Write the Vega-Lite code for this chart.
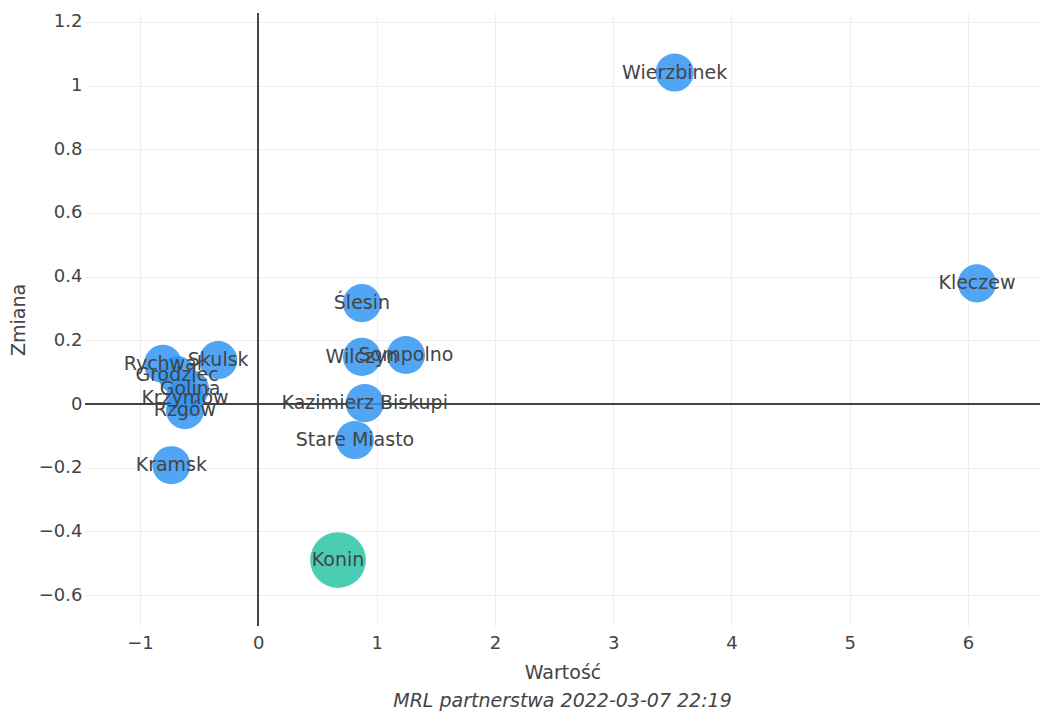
{
  "$schema": "https://vega.github.io/schema/vega-lite/v6.json",
  "autosize": "none",
  "width": 955,
  "height": 613,
  "padding": {"left": 85, "top": 13, "right": 6, "bottom": 85},
  "background": "white",
  "config": {
    "font": "DejaVu Sans",
    "view": {"stroke": null},
    "axis": {
      "grid": true,
      "gridColor": "#eeeeee",
      "gridWidth": 1,
      "domain": false,
      "ticks": false,
      "tickSize": 0,
      "labelFont": "DejaVu Sans",
      "labelFontSize": 18,
      "labelColor": "#444444",
      "titleFont": "DejaVu Sans",
      "titleFontSize": 19,
      "titleFontWeight": "normal",
      "titleColor": "#444444"
    }
  },
  "title": {
    "text": "MRL partnerstwa 2022-03-07 22:19",
    "orient": "bottom",
    "anchor": "middle",
    "font": "DejaVu Sans",
    "fontSize": 19,
    "fontStyle": "italic",
    "fontWeight": "normal",
    "color": "#444444",
    "offset": 10
  },
  "data": {
    "values": [
      {"gmina": "Wierzbinek", "wartosc": 3.52, "zmiana": 1.041, "typ": "gmina"},
      {"gmina": "Kleczew", "wartosc": 6.075, "zmiana": 0.379, "typ": "gmina"},
      {"gmina": "Ślesin", "wartosc": 0.876, "zmiana": 0.317, "typ": "gmina"},
      {"gmina": "Wilczyn", "wartosc": 0.876, "zmiana": 0.148, "typ": "gmina"},
      {"gmina": "Sompolno", "wartosc": 1.248, "zmiana": 0.154, "typ": "gmina"},
      {"gmina": "Kazimierz Biskupi", "wartosc": 0.9, "zmiana": 0.003, "typ": "gmina"},
      {"gmina": "Stare Miasto", "wartosc": 0.817, "zmiana": -0.113, "typ": "gmina"},
      {"gmina": "Skulsk", "wartosc": -0.339, "zmiana": 0.138, "typ": "gmina"},
      {"gmina": "Rychwał", "wartosc": -0.806, "zmiana": 0.126, "typ": "gmina"},
      {"gmina": "Grodziec", "wartosc": -0.687, "zmiana": 0.091, "typ": "gmina"},
      {"gmina": "Golina", "wartosc": -0.577, "zmiana": 0.047, "typ": "gmina"},
      {"gmina": "Krzymów", "wartosc": -0.62, "zmiana": 0.019, "typ": "gmina"},
      {"gmina": "Rzgów", "wartosc": -0.62, "zmiana": -0.019, "typ": "gmina"},
      {"gmina": "Kramsk", "wartosc": -0.735, "zmiana": -0.192, "typ": "gmina"},
      {"gmina": "Konin", "wartosc": 0.674, "zmiana": -0.49, "typ": "miasto"}
    ]
  },
  "encoding": {
    "x": {
      "field": "wartosc",
      "type": "quantitative",
      "title": "Wartość",
      "scale": {"domain": [-1.465, 6.608], "nice": false, "zero": false},
      "axis": {"values": [-1, 0, 1, 2, 3, 4, 5, 6], "format": "~g", "labelPadding": 8, "titlePadding": 11}
    },
    "y": {
      "field": "zmiana",
      "type": "quantitative",
      "title": "Zmiana",
      "scale": {"domain": [-0.697, 1.228], "nice": false, "zero": false},
      "axis": {"values": [-0.6, -0.4, -0.2, 0, 0.2, 0.4, 0.6, 0.8, 1, 1.2], "format": "~g", "labelPadding": 3, "titlePadding": 10}
    }
  },
  "layer": [
    {
      "mark": {"type": "rule", "color": "#444444", "strokeWidth": 1},
      "encoding": {"x": {"datum": 0, "type": "quantitative"}, "y": null}
    },
    {
      "mark": {"type": "rule", "color": "#444444", "strokeWidth": 1},
      "encoding": {"y": {"datum": 0, "type": "quantitative"}, "x": null}
    },
    {
      "mark": {"type": "circle", "opacity": 0.85},
      "encoding": {
        "color": {"field": "typ", "type": "nominal", "scale": {"domain": ["gmina", "miasto"], "range": ["#3195f3", "#2cc4a7"]}, "legend": null},
        "size": {"field": "typ", "type": "nominal", "scale": {"domain": ["gmina", "miasto"], "range": [1452, 3117]}, "legend": null}
      }
    },
    {
      "mark": {"type": "text", "font": "DejaVu Sans", "fontSize": 19, "color": "#444444", "align": "center", "baseline": "middle"},
      "encoding": {"text": {"field": "gmina", "type": "nominal"}}
    }
  ]
}
